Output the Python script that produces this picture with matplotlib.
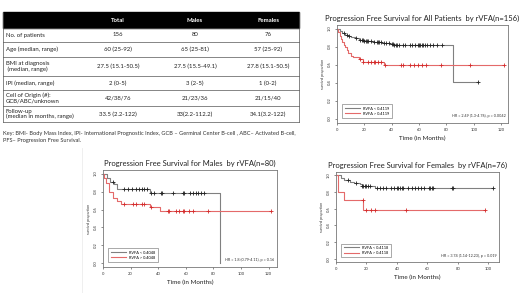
import numpy as np
import matplotlib
matplotlib.use('Agg')
import matplotlib.pyplot as plt
from matplotlib.patches import Rectangle

plt.rcParams['font.family'] = ['Lato', 'DejaVu Sans']

# table data
row_labels = ['No. of patients', 'Age (median, range)', 'BMI at diagnosis\n (median, range)',
              'IPI (median, range)', 'Cell of Origin (#):\nGCB/ABC/unknown',
              'Follow-up\n(median in months, range)']
col_names = ['Total', 'Males', 'Females']
col_total = ['156', '60 (25-92)', '27.5 (15.1-50.5)', '2 (0-5)', '42/38/76', '33.5 (2.2-122)']
col_males = ['80', '65 (25-81)', '27.5 (15.5-49.1)', '3 (2-5)', '21/23/36', '33(2.2-112.2)']
col_females = ['76', '57 (25-92)', '27.8 (15.1-50.5)', '1 (0-2)', '21/15/40', '34.1(3.2-122)']
key_text = ('Key: BMI- Body Mass Index, IPI- International Prognostic Index, GCB \u2013 Germinal Center B-cell , ABC\u2013 Activated B-cell,\n'
            'PFS\u2013 Progression Free Survival.')

# all patients (step times / survival, censor times)
all_lo_t = [0, 2, 4, 6, 8, 10, 13, 16, 20, 27, 33, 39, 42, 85]
all_lo_s = [1.0, 0.97, 0.95, 0.93, 0.92, 0.91, 0.89, 0.87, 0.86, 0.85, 0.84, 0.83, 0.82, 0.41]
all_lo_c = [5, 7, 9, 14, 17, 18, 19, 20, 21, 22, 23, 25, 27, 29, 30, 31, 32, 34, 36, 38, 40, 41,
            42, 43, 44, 45, 48, 50, 53, 55, 57, 59, 60, 61, 62, 63, 64, 66, 68, 70, 73, 77, 103]
all_lo_end = 103
all_hi_t = [0, 1, 2, 3, 4, 5, 6, 7, 8, 10, 12, 16, 19, 34]
all_hi_s = [1.0, 0.96, 0.92, 0.88, 0.85, 0.82, 0.79, 0.76, 0.73, 0.70, 0.68, 0.66, 0.63, 0.60]
all_hi_c = [17, 19, 23, 25, 27, 28, 30, 32, 35, 47, 48, 53, 56, 59, 62, 65, 76, 97, 122]
all_hi_end = 122

# males
m_lo_t = [0, 3, 5, 8, 10, 34, 85]
m_lo_s = [1.0, 0.95, 0.91, 0.885, 0.83, 0.785, 0.0]
m_lo_c = [7, 15, 18, 21, 24, 26, 28, 30, 32, 35, 37, 42, 43, 51, 58, 59, 63, 65, 67, 69, 71, 73]
m_lo_end = 85
m_hi_t = [0, 1, 2, 4, 7, 10, 13, 34, 41]
m_hi_s = [1.0, 0.95, 0.9, 0.8, 0.73, 0.69, 0.665, 0.625, 0.585]
m_hi_c = [15, 22, 24, 28, 30, 35, 47, 48, 53, 55, 58, 59, 62, 65, 76, 122]
m_hi_end = 122

# females
f_lo_t = [0, 3, 5.5, 9, 12, 15.5, 17, 25.5]
f_lo_s = [1.0, 0.97, 0.945, 0.925, 0.91, 0.89, 0.875, 0.85]
f_lo_c = [8, 13, 17, 18, 19, 20, 21, 22, 27, 29, 31, 33, 36, 38, 40, 41, 42, 43, 44, 47, 50,
          52, 54, 56, 58, 61, 62, 63, 64, 76, 77, 103]
f_lo_end = 103
f_hi_t = [0, 1.5, 5, 18]
f_hi_s = [1.0, 0.8, 0.7, 0.58]
f_hi_c = [17.5, 19.5, 23, 25.5, 46, 98]
f_hi_end = 98

W, H = 520, 293
fig = plt.figure(figsize=(W / 100, H / 100), dpi=100)


def box(l, t, r, b):
    return [l / W, 1 - b / H, (r - l) / W, (b - t) / H]


# ---- table ----
ax0 = fig.add_axes([0, 0, 1, 1])
ax0.set_xlim(0, W)
ax0.set_ylim(H, 0)
ax0.axis('off')

tl, tr = 3, 299
rows_y = [12, 28, 42, 57, 76, 90, 106, 122]
col_x = [118, 195, 268]
ax0.add_patch(Rectangle((tl, rows_y[0]), tr - tl, rows_y[1] - rows_y[0], color='black'))
for cx, name in zip(col_x, col_names):
    ax0.text(cx, (rows_y[0] + rows_y[1]) / 2, name, color='white', fontsize=4.3,
             fontweight='bold', ha='center', va='center')
for y in rows_y[1:]:
    ax0.plot([tl, tr], [y, y], color='#555555', lw=0.5)
ax0.plot([tl, tl], [rows_y[0], rows_y[-1]], color='#555555', lw=0.5)
ax0.plot([tr, tr], [rows_y[0], rows_y[-1]], color='#555555', lw=0.5)
for i, lab in enumerate(row_labels):
    yc = (rows_y[i + 1] + rows_y[i + 2]) / 2
    ax0.text(6, yc, lab, fontsize=4.3, ha='left', va='center', color='#222222', linespacing=1.0)
    for cx, col in zip(col_x, [col_total, col_males, col_females]):
        ax0.text(cx, yc, col[i], fontsize=4.3, ha='center', va='center', color='#222222')
ax0.text(3, 131, key_text, fontsize=4.1, ha='left', va='top', color='#333333', linespacing=1.5)
ax0.plot([82, 82], [148, 293], color='#ececec', lw=0.6)


# ---- KM panels ----
def km_panel(rect, groups, labels, hr, title, xmax, xticks, ymin):
    ax = fig.add_axes(rect)
    for (t, s, c, end), lab, col, mcol in zip(groups, labels, ['#808080', '#e46a6a'],
                                           ['#222222', '#d42a2a']):
        t = np.array(t, float)
        s = np.array(s, float)
        tt = np.append(t, end)
        ss = np.append(s, s[-1])
        ax.step(tt, ss, where='post', color=col, lw=0.8, label=lab)
        c = np.array(c, float)
        idx = np.searchsorted(t, c, side='right') - 1
        ax.plot(c, s[idx], '+', color=mcol, ms=3, mew=0.6)
    ax.set_xlim(0, xmax)
    ax.set_ylim(ymin, 1.04)
    ax.set_xticks(xticks)
    ax.set_yticks([0, 0.2, 0.4, 0.6, 0.8, 1.0])
    ax.set_yticklabels(['0.0', '0.2', '0.4', '0.6', '0.8', '1.0'], rotation=90, va='center')
    ax.tick_params(labelsize=3, length=1.5, width=0.4, pad=2, colors='#333333')
    for sp in ax.spines.values():
        sp.set_linewidth(0.6)
        sp.set_color('#777777')
    ax.set_xlabel('Time (in Months)', fontsize=4.5, labelpad=3, color='#222222')
    ax.set_ylabel('survival proportion', fontsize=2.6, labelpad=2, color='#333333')
    ax.set_title(title, fontsize=5.5, pad=3, color='#222222')
    leg = ax.legend(loc='lower left', fontsize=2.8, frameon=True, fancybox=False,
                    handlelength=4, borderpad=0.6, labelspacing=0.3,
                    bbox_to_anchor=(0.02, 0.03))
    leg.get_frame().set_edgecolor('#444444')
    leg.get_frame().set_linewidth(0.4)
    ax.text(0.985, 0.05, hr, transform=ax.transAxes, ha='right', va='bottom',
            fontsize=2.7, color='#333333')
    return ax


km_panel(box(337, 25, 508, 123),
         [(all_lo_t, all_lo_s, all_lo_c, all_lo_end), (all_hi_t, all_hi_s, all_hi_c, all_hi_end)],
         ['RVFA < 0.4119', 'RVFA > 0.4119'], 'HR = 2.49 (1.3-4.76), p = 0.0042',
         'Progression Free Survival for All Patients  by rVFA(n=156)', 125,
         [0, 20, 40, 60, 80, 100, 120], -0.05)

km_panel(box(103, 170, 277, 267),
         [(m_lo_t, m_lo_s, m_lo_c, m_lo_end), (m_hi_t, m_hi_s, m_hi_c, m_hi_end)],
         ['RVFA < 0.4048', 'RVFA > 0.4048'], 'HR = 1.8 (0.79-4.11), p = 0.16',
         'Progression Free Survival for Males  by rVFA(n=80)', 126,
         [0, 20, 40, 60, 80, 100, 120], -0.04)

km_panel(box(336, 172, 499, 262),
         [(f_lo_t, f_lo_s, f_lo_c, f_lo_end), (f_hi_t, f_hi_s, f_hi_c, f_hi_end)],
         ['RVFA < 0.4118', 'RVFA > 0.4118'], 'HR = 3.74 (1.14-12.23), p = 0.019',
         'Progression Free Survival for Females  by rVFA(n=76)', 107,
         [0, 20, 40, 60, 80, 100], -0.04)

fig.savefig('out.png', dpi=100)
